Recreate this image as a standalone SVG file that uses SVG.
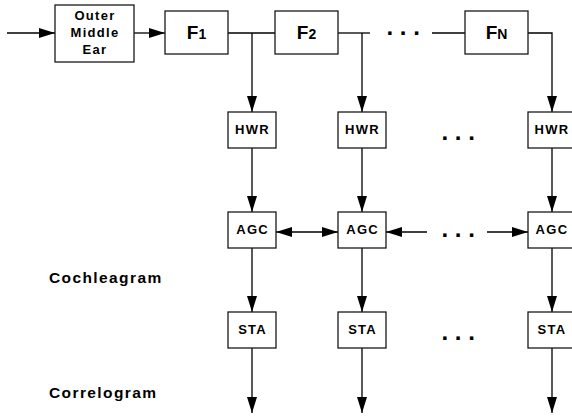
<svg xmlns="http://www.w3.org/2000/svg" width="572" height="418" viewBox="0 0 572 418">
<style>
  .box { fill: #fff; stroke: #1a1a1a; stroke-width: 1.3; }
  .lbl { font-family: "Liberation Sans", Arial, sans-serif; font-weight: bold; font-size: 13px; letter-spacing: 1.3px; fill: #000; text-anchor: middle; }
  .f { font-family: "Liberation Sans", Arial, sans-serif; font-weight: bold; font-size: 19px; fill: #000; text-anchor: middle; }
  .sub { font-size: 14px; }
  .side { font-family: "Liberation Sans", Arial, sans-serif; font-weight: bold; font-size: 15.5px; letter-spacing: 1.4px; fill: #000; }
  .dots { font-family: "Liberation Sans", Arial, sans-serif; font-weight: bold; font-size: 24px; fill: #000; }
  .wire { fill: none; stroke: #000; stroke-width: 1.3; }
  .arr { marker-end: url(#ah); }
  .bi { marker-start: url(#ah); marker-end: url(#ah); }
</style>
<defs>
  <marker id="ah" markerUnits="userSpaceOnUse" markerWidth="16" markerHeight="10" viewBox="0 0 16 10" refX="16" refY="5" orient="auto-start-reverse">
    <path d="M0,0 L16,5 L0,10 Z" fill="#000"/>
  </marker>
</defs>
<rect width="572" height="418" fill="#fff"/>

<g id="connectors">
  <path class="wire arr" d="M7,33 H55"/>
  <path class="wire arr" d="M134,33 H165"/>
  <path class="wire" d="M228,33 H275"/>
  <path class="wire arr" d="M252,33 V112"/>
  <path class="wire" d="M338,33 H370"/>
  <path class="wire arr" d="M362,33 V112"/>
  <path class="wire" d="M432,33 H465"/>
  <path class="wire arr" d="M528,33 H552 V112"/>
  <path class="wire arr" d="M252,148 V212"/>
  <path class="wire arr" d="M362,148 V212"/>
  <path class="wire arr" d="M552,148 V212"/>
  <path class="wire bi" d="M276,232 H338"/>
  <path class="wire arr" d="M427,232 H386"/>
  <path class="wire arr" d="M487,232 H528"/>
  <path class="wire arr" d="M252,248 V312"/>
  <path class="wire arr" d="M362,248 V312"/>
  <path class="wire arr" d="M552,248 V312"/>
  <path class="wire arr" d="M252,348 V413"/>
  <path class="wire arr" d="M362,348 V413"/>
  <path class="wire arr" d="M552,348 V413"/>
</g>

<g id="ome">
  <rect class="box" x="55" y="5" width="79" height="57"/>
  <text class="lbl" x="95" y="20">Outer</text>
  <text class="lbl" x="95" y="37">Middle</text>
  <text class="lbl" x="95" y="54">Ear</text>
</g>
<g id="f1">
  <rect class="box" x="165" y="11" width="63" height="43"/>
  <text class="f" x="196.5" y="39">F<tspan class="sub">1</tspan></text>
</g>
<g id="f2">
  <rect class="box" x="275" y="11" width="63" height="43"/>
  <text class="f" x="306.5" y="39">F<tspan class="sub">2</tspan></text>
</g>
<g id="fn">
  <rect class="box" x="465" y="11" width="63" height="43"/>
  <text class="f" x="496.5" y="39">F<tspan class="sub">N</tspan></text>
</g>

<g id="hwr1"><rect class="box" x="228" y="112" width="48" height="36"/><text class="lbl" x="252.6" y="134">HWR</text></g>
<g id="hwr2"><rect class="box" x="338" y="112" width="48" height="36"/><text class="lbl" x="362.6" y="134">HWR</text></g>
<g id="hwr3"><rect class="box" x="528" y="112" width="48" height="36"/><text class="lbl" x="552" y="134">HWR</text></g>

<g id="agc1"><rect class="box" x="228" y="212" width="48" height="36"/><text class="lbl" x="252.6" y="234">AGC</text></g>
<g id="agc2"><rect class="box" x="338" y="212" width="48" height="36"/><text class="lbl" x="362.6" y="234">AGC</text></g>
<g id="agc3"><rect class="box" x="528" y="212" width="48" height="36"/><text class="lbl" x="552" y="234">AGC</text></g>

<g id="sta1"><rect class="box" x="228" y="312" width="48" height="36"/><text class="lbl" x="252.6" y="334">STA</text></g>
<g id="sta2"><rect class="box" x="338" y="312" width="48" height="36"/><text class="lbl" x="362.6" y="334">STA</text></g>
<g id="sta3"><rect class="box" x="528" y="312" width="48" height="36"/><text class="lbl" x="552" y="334">STA</text></g>

<g id="dots">
  <text class="dots" x="386.5" y="35">. . .</text>
  <text class="dots" x="441.5" y="139.5">. . .</text>
  <text class="dots" x="441.5" y="236.5">. . .</text>
  <text class="dots" x="441.5" y="339.5">. . .</text>
</g>

<g id="labels">
  <text class="side" x="49" y="283">Cochleagram</text>
  <text class="side" x="49" y="398">Correlogram</text>
</g>
</svg>
